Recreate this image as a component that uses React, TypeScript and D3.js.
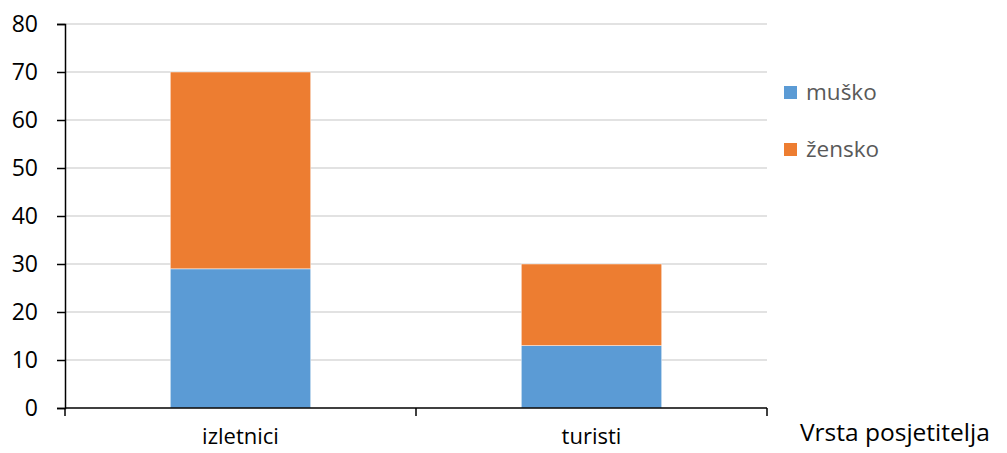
import { useEffect, useRef } from 'react';
import * as d3 from 'd3';

const categories = ['izletnici', 'turisti'];
const seriesNames = ['muško', 'žensko'];
const musko = [29, 13];
const zensko = [41, 17];
const yTicks = [0, 10, 20, 30, 40, 50, 60, 70, 80];
const colors = ['#5B9BD5', '#ED7D31'];
const axisTitle = 'Vrsta posjetitelja';

export default function App() {
  const svgRef = useRef<SVGSVGElement>(null);
  const width = 1007;
  const height = 453;

  useEffect(() => {
    if (!svgRef.current) return;
    const svg = d3.select(svgRef.current);
    svg.selectAll('*').remove();

    const margin = { top: 24, right: 240, bottom: 45, left: 65 };
    const innerWidth = width - margin.left - margin.right;
    const innerHeight = height - margin.top - margin.bottom;
    const font = "'Open Sans', sans-serif";

    const x = d3.scaleBand().domain(categories).range([0, innerWidth]).paddingInner(0.6).paddingOuter(0.3);
    const xOuter = d3.scaleBand().domain(categories).range([0, innerWidth]);
    const y = d3.scaleLinear().domain([0, 80]).range([innerHeight, 0]);

    const g = svg.append('g').attr('transform', `translate(${margin.left},${margin.top})`);

    // gridlines
    g.selectAll('.grid')
      .data(yTicks.filter((t) => t > 0))
      .enter()
      .append('line')
      .attr('x1', 0)
      .attr('x2', innerWidth)
      .attr('y1', (d) => y(d))
      .attr('y2', (d) => y(d))
      .attr('stroke', '#d9d9d9')
      .attr('stroke-width', 1.3);

    // stacked bars
    const rows = categories.map((c, i) => ({ cat: c, musko: musko[i], zensko: zensko[i] }));
    const stacked = d3.stack<any>().keys(['musko', 'zensko'])(rows);
    stacked.forEach((layer, li) => {
      g.selectAll(`.bar${li}`)
        .data(layer)
        .enter()
        .append('rect')
        .attr('x', (d: any) => x(d.data.cat)!)
        .attr('width', x.bandwidth())
        .attr('y', (d) => y(d[1]))
        .attr('height', (d) => y(d[0]) - y(d[1]))
        .attr('fill', colors[li])
        .attr('stroke', '#ffffff')
        .attr('stroke-opacity', 0.6)
        .attr('stroke-width', 0.8);
    });

    // y axis
    const yAxis = g.append('g')
      .call(d3.axisLeft(y).tickValues(yTicks).tickSize(8).tickPadding(19));
    yAxis.select('.domain').attr('stroke', '#000').attr('stroke-width', 1.5);
    yAxis.selectAll('.tick line').attr('stroke', '#000').attr('stroke-width', 1.5);
    yAxis.selectAll('text')
      .attr('fill', '#000')
      .attr('font-size', 23)
      .attr('font-family', font);

    // x axis
    const xAxisG = g.append('g').attr('transform', `translate(0,${innerHeight})`);
    xAxisG.append('line')
      .attr('x1', 0).attr('x2', innerWidth)
      .attr('stroke', '#000').attr('stroke-width', 1.5);
    const boundaries = [0, ...categories.map((c) => xOuter(c)! + xOuter.bandwidth())];
    xAxisG.selectAll('.xtick')
      .data(boundaries)
      .enter()
      .append('line')
      .attr('x1', (d) => d).attr('x2', (d) => d)
      .attr('y1', 0).attr('y2', 8)
      .attr('stroke', '#000').attr('stroke-width', 1.5);
    xAxisG.selectAll('.xlabel')
      .data(categories)
      .enter()
      .append('text')
      .attr('x', (d) => xOuter(d)! + xOuter.bandwidth() / 2)
      .attr('y', 36)
      .attr('text-anchor', 'middle')
      .attr('font-size', 22)
      .attr('font-family', font)
      .attr('fill', '#000')
      .text((d) => d);

    svg.append('text')
      .attr('x', 800)
      .attr('y', 441)
      .attr('font-size', 24.5)
      .attr('font-family', font)
      .attr('fill', '#000')
      .text(axisTitle);

    // legend
    const legend = svg.append('g').attr('transform', 'translate(784,86)');
    seriesNames.forEach((name, i) => {
      const row = legend.append('g').attr('transform', `translate(0,${i * 57})`);
      row.append('rect').attr('width', 13).attr('height', 13).attr('fill', colors[i]);
      row.append('text')
        .attr('x', 22)
        .attr('y', 6)
        .attr('dy', '0.35em')
        .attr('font-size', 22.5)
        .attr('font-family', font)
        .attr('fill', '#595959')
        .text(name);
    });
  }, []);

  return (
    <svg
      ref={svgRef}
      width={width}
      height={height}
      style={{ position: 'absolute', left: 0, top: 0, background: '#fff' }}
    />
  );
}
